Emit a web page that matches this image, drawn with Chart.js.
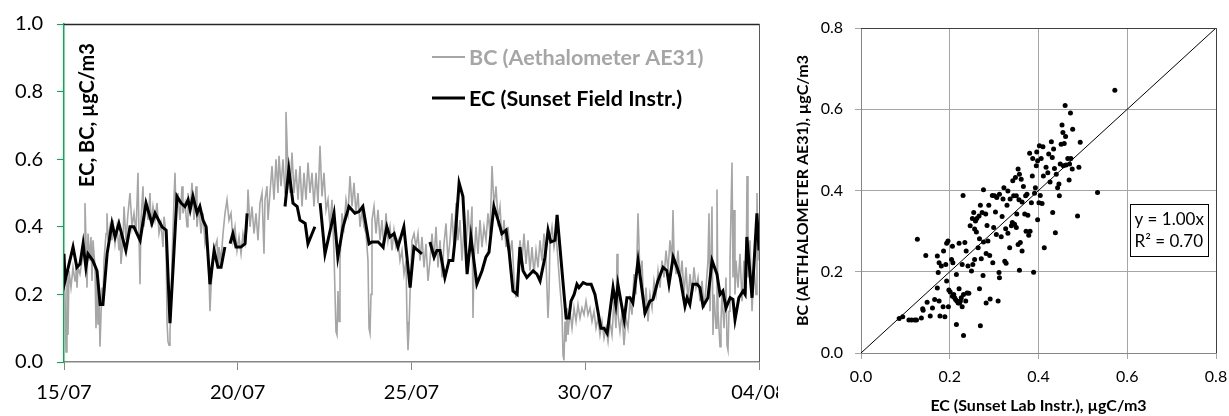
<!DOCTYPE html>
<html><head><meta charset="utf-8">
<script src="https://cdn.jsdelivr.net/npm/chart.js@4.4.1/dist/chart.umd.min.js"></script>
<style>
html,body{margin:0;padding:0;background:#fff;}
#wrap{position:relative;width:1229px;height:416px;overflow:hidden;}
#c1{position:absolute;left:0;top:0;}
#c2{position:absolute;left:778px;top:0;}
</style></head><body>
<div id="wrap">
<canvas id="c1" width="778" height="416"></canvas>
<canvas id="c2" width="451" height="416"></canvas>
</div>
<script>
// ---------- Time-series panel data (x = days since 15/07 00:00) ----------
const xTickDays = [0, 5, 10, 15, 20];
const xTickLabels = ["15/07", "20/07", "25/07", "30/07", "04/08"];
const yTicksLeft = [0, 0.2, 0.4, 0.6, 0.8, 1.0];

const bcLabel = "BC (Aethalometer AE31)";
const ecLabel = "EC (Sunset Field Instr.)";
const leftYTitle = "EC, BC, µgC/m3";

const bcDays = [
0.000,0.029,0.058,0.086,0.115,0.144,0.201,0.259,0.317,0.345,
0.374,0.403,0.460,0.518,0.576,0.604,0.633,0.662,0.691,0.748,
0.777,0.806,0.835,0.892,0.921,0.950,0.978,1.007,1.036,1.065,
1.094,1.122,1.151,1.209,1.237,1.266,1.324,1.381,1.410,1.468,
1.525,1.583,1.612,1.640,1.698,1.727,1.784,1.842,1.899,1.957,
2.014,2.072,2.129,2.158,2.187,2.216,2.273,2.302,2.360,2.417,
2.475,2.504,2.561,2.619,2.676,2.734,2.791,2.849,2.878,2.935,
2.964,2.993,3.022,3.050,3.079,3.108,3.165,3.194,3.223,3.281,
3.338,3.396,3.424,3.482,3.540,3.568,3.626,3.683,3.741,3.799,
3.827,3.885,3.942,4.000,4.058,4.115,4.173,4.201,4.230,4.288,
4.345,4.403,4.432,4.460,4.518,4.576,4.633,4.691,4.748,4.806,
4.863,4.921,4.978,5.036,5.094,5.151,5.209,5.266,5.295,5.353,
5.410,5.468,5.525,5.583,5.640,5.698,5.755,5.784,5.842,5.871,
5.928,5.986,6.043,6.101,6.158,6.187,6.245,6.302,6.360,6.388,
6.446,6.504,6.561,6.619,6.676,6.734,6.791,6.849,6.906,6.964,
7.022,7.079,7.137,7.194,7.252,7.309,7.367,7.424,7.482,7.540,
7.597,7.655,7.712,7.770,7.827,7.856,7.885,7.914,7.942,8.000,
8.058,8.115,8.173,8.230,8.288,8.345,8.403,8.460,8.518,8.576,
8.633,8.691,8.748,8.777,8.806,8.835,8.863,8.921,8.978,9.036,
9.094,9.151,9.209,9.266,9.324,9.381,9.439,9.496,9.554,9.612,
9.669,9.727,9.784,9.842,9.871,9.899,9.928,9.957,10.014,10.072,
10.129,10.187,10.245,10.302,10.360,10.417,10.475,10.532,10.590,10.647,
10.705,10.763,10.820,10.878,10.935,10.993,11.050,11.108,11.165,11.223,
11.281,11.338,11.396,11.453,11.511,11.568,11.626,11.683,11.741,11.770,
11.799,11.856,11.914,11.971,12.029,12.086,12.144,12.201,12.259,12.317,
12.374,12.432,12.489,12.547,12.604,12.662,12.719,12.777,12.835,12.892,
12.950,13.007,13.065,13.122,13.180,13.237,13.295,13.353,13.410,13.468,
13.525,13.583,13.640,13.698,13.755,13.813,13.871,13.928,13.957,13.986,
14.043,14.101,14.158,14.216,14.273,14.331,14.360,14.388,14.417,14.446,
14.475,14.504,14.561,14.619,14.676,14.734,14.791,14.849,14.906,14.964,
15.022,15.079,15.137,15.194,15.252,15.309,15.367,15.424,15.482,15.540,
15.597,15.655,15.712,15.770,15.827,15.885,15.914,15.942,16.000,16.058,
16.115,16.173,16.230,16.288,16.345,16.403,16.460,16.518,16.576,16.633,
16.691,16.748,16.806,16.863,16.921,16.978,17.036,17.094,17.151,17.209,
17.266,17.324,17.381,17.439,17.496,17.525,17.554,17.612,17.669,17.727,
17.784,17.842,17.899,17.957,18.014,18.072,18.129,18.187,18.245,18.302,
18.360,18.417,18.475,18.532,18.561,18.590,18.647,18.676,18.705,18.763,
18.791,18.820,18.878,18.906,18.935,18.993,19.050,19.079,19.108,19.137,
19.165,19.223,19.252,19.281,19.309,19.338,19.396,19.453,19.511,19.568,
19.626,19.655,19.683,19.741,19.799,19.856,19.914,19.942,19.971,20.000];

const bcVals = [
0.25,0.20,0.03,0.25,0.08,0.27,0.22,0.28,0.24,0.30,
0.22,0.28,0.26,0.30,0.33,0.47,0.36,0.22,0.38,0.30,
0.37,0.24,0.36,0.28,0.10,0.25,0.11,0.20,0.045,0.14,
0.22,0.18,0.30,0.38,0.44,0.36,0.40,0.36,0.42,0.35,
0.40,0.33,0.38,0.29,0.36,0.46,0.36,0.44,0.50,0.40,
0.44,0.38,0.56,0.38,0.23,0.42,0.52,0.40,0.48,0.42,
0.50,0.40,0.46,0.42,0.47,0.38,0.41,0.34,0.43,0.38,
0.12,0.06,0.05,0.09,0.16,0.30,0.48,0.56,0.44,0.50,
0.42,0.52,0.44,0.47,0.40,0.50,0.44,0.53,0.42,0.52,
0.40,0.46,0.38,0.44,0.35,0.38,0.25,0.15,0.22,0.30,
0.34,0.36,0.28,0.34,0.30,0.38,0.44,0.48,0.42,0.44,
0.36,0.40,0.33,0.37,0.32,0.38,0.35,0.40,0.51,0.40,
0.46,0.38,0.44,0.36,0.47,0.50,0.32,0.48,0.52,0.42,
0.50,0.58,0.48,0.60,0.50,0.61,0.52,0.60,0.50,0.74,
0.56,0.50,0.62,0.50,0.57,0.48,0.58,0.46,0.56,0.48,
0.59,0.50,0.56,0.46,0.56,0.47,0.64,0.49,0.56,0.45,
0.48,0.40,0.48,0.32,0.09,0.08,0.21,0.12,0.30,0.44,
0.40,0.48,0.44,0.55,0.46,0.53,0.44,0.50,0.40,0.45,
0.40,0.38,0.30,0.10,0.085,0.20,0.42,0.46,0.38,0.45,
0.36,0.42,0.33,0.44,0.36,0.40,0.33,0.39,0.34,0.36,
0.30,0.33,0.26,0.30,0.12,0.035,0.10,0.20,0.36,0.38,
0.34,0.38,0.30,0.37,0.28,0.35,0.24,0.30,0.38,0.30,
0.40,0.28,0.36,0.25,0.35,0.41,0.30,0.36,0.44,0.34,
0.47,0.36,0.42,0.30,0.40,0.33,0.45,0.36,0.46,0.13,
0.30,0.40,0.32,0.42,0.34,0.40,0.36,0.44,0.38,0.58,
0.46,0.52,0.42,0.46,0.36,0.42,0.34,0.40,0.32,0.36,
0.25,0.19,0.28,0.36,0.30,0.38,0.29,0.36,0.27,0.34,
0.26,0.33,0.28,0.36,0.30,0.38,0.30,0.13,0.20,0.36,
0.40,0.34,0.38,0.30,0.22,0.15,0.02,0.005,0.12,0.06,
0.16,0.08,0.15,0.10,0.16,0.12,0.17,0.13,0.16,0.14,
0.18,0.14,0.16,0.12,0.15,0.10,0.13,0.08,0.12,0.07,
0.10,0.06,0.12,0.08,0.18,0.10,0.32,0.14,0.09,0.15,
0.05,0.13,0.10,0.18,0.14,0.26,0.20,0.44,0.25,0.30,
0.14,0.22,0.12,0.20,0.16,0.24,0.20,0.27,0.22,0.30,
0.25,0.33,0.27,0.36,0.30,0.45,0.32,0.26,0.33,0.24,
0.30,0.20,0.28,0.18,0.26,0.20,0.28,0.22,0.25,0.18,
0.24,0.16,0.22,0.30,0.44,0.15,0.46,0.08,0.20,0.10,
0.51,0.15,0.045,0.12,0.20,0.10,0.25,0.05,0.035,0.15,
0.30,0.59,0.25,0.45,0.20,0.30,0.22,0.32,0.18,0.30,
0.20,0.55,0.25,0.36,0.15,0.28,0.20,0.50,0.30,0.40];

const ecDays = [
0.00,0.03,0.26,0.37,0.46,0.55,0.63,0.69,0.83,0.95,
1.04,1.12,1.24,1.38,1.47,1.58,1.78,1.90,2.01,2.10,
2.19,2.36,2.53,2.62,2.82,2.94,3.05,3.14,3.25,3.37,
3.48,3.57,3.63,3.71,3.83,3.91,4.00,4.09,4.20,4.32,
4.43,4.52,4.63,4.70,4.78,4.86,4.95,5.09,5.21,5.27,
6.00,6.36,6.47,6.59,6.71,6.79,6.94,7.02,7.22,7.29,
7.37,7.51,7.77,7.88,8.03,8.20,8.37,8.49,8.60,8.78,
8.86,9.04,9.18,9.29,9.38,9.50,9.61,9.78,9.96,10.07,
10.30,10.40,10.53,10.65,10.73,10.82,10.96,11.08,11.19,11.25,
11.37,11.48,11.60,11.71,11.88,12.03,12.14,12.23,12.37,12.49,
12.60,12.72,12.81,12.92,13.04,13.12,13.21,13.32,13.50,13.61,
13.70,13.84,13.93,14.01,14.13,14.19,14.45,14.53,14.59,14.68,
14.76,14.82,14.94,15.05,15.17,15.28,15.45,15.54,15.63,15.80,
15.88,15.94,16.12,16.20,16.29,16.37,16.52,16.72,16.86,16.95,
17.09,17.24,17.35,17.41,17.53,17.64,17.73,17.87,17.93,18.01,
18.10,18.22,18.30,18.39,18.53,18.65,18.79,18.88,18.96,19.05,
19.17,19.25,19.31,19.42,19.54,19.60,19.65,19.80,19.94,20.00];

const ecVals = [
0.32,0.24,0.34,0.28,0.29,0.35,0.28,0.32,0.30,0.27,
0.17,0.17,0.32,0.41,0.37,0.41,0.33,0.40,0.40,0.38,
0.36,0.47,0.41,0.44,0.40,0.39,0.115,0.28,0.49,0.47,
0.46,0.48,0.45,0.49,0.44,0.46,0.42,0.40,0.23,0.33,
0.28,0.28,0.34,null,0.35,0.38,0.34,0.34,0.35,0.44,
null,0.46,0.57,0.47,0.46,0.42,0.41,0.35,0.40,null,
0.47,0.32,0.44,0.31,0.40,0.46,0.44,0.445,0.46,0.35,
0.355,0.355,0.34,0.40,0.37,0.38,0.34,0.40,0.22,0.34,
0.32,null,0.355,0.31,0.33,0.33,0.25,0.30,0.30,0.36,
0.53,0.49,0.26,0.37,0.23,0.27,0.31,0.325,0.46,0.42,
0.38,0.39,0.325,0.21,0.20,0.34,0.27,0.25,0.27,0.26,
0.24,0.31,0.39,0.355,0.36,0.435,0.13,0.13,0.18,0.20,
0.23,0.22,0.235,0.23,0.23,0.20,0.10,0.10,0.085,0.22,
0.17,0.23,0.125,0.19,0.19,0.175,0.30,0.145,0.18,0.185,
0.24,0.28,0.27,0.23,0.31,0.28,0.25,0.165,0.19,0.17,
0.23,0.23,0.22,0.165,0.19,0.30,0.26,0.20,0.21,0.16,
0.19,0.185,0.125,0.19,0.21,0.20,0.37,0.19,0.44,0.33];

// ---------- Scatter panel data ----------
const scatterTicks = [0, 0.2, 0.4, 0.6, 0.8];
const scatterXTitle = "EC (Sunset Lab Instr.), µgC/m3";
const scatterYTitle = "BC (AETHALOMETER AE31), µgC/m3";
const fitText = ["y = 1.00x", "R² = 0.70"];
const fitLineX = [0, 0.8];
const fitSlope = 1.00;

const scatterEC = [
0.086,0.094,0.108,0.114,0.121,0.125,0.127,0.136,0.139,0.140,
0.146,0.149,0.156,0.161,0.166,0.172,0.172,0.174,0.176,0.176,
0.178,0.181,0.185,0.186,0.189,0.191,0.193,0.193,0.196,0.197,
0.198,0.201,0.204,0.206,0.206,0.207,0.209,0.211,0.213,0.215,
0.215,0.216,0.219,0.221,0.221,0.222,0.224,0.226,0.228,0.228,
0.230,0.231,0.231,0.234,0.236,0.237,0.239,0.241,0.243,0.246,
0.249,0.251,0.252,0.254,0.256,0.256,0.258,0.260,0.261,0.264,
0.266,0.267,0.267,0.269,0.269,0.271,0.273,0.275,0.276,0.276,
0.281,0.282,0.282,0.284,0.286,0.288,0.290,0.291,0.296,0.297,
0.299,0.301,0.303,0.305,0.306,0.309,0.311,0.312,0.312,0.316,
0.318,0.320,0.322,0.324,0.326,0.327,0.329,0.331,0.331,0.335,
0.336,0.339,0.341,0.342,0.344,0.346,0.348,0.350,0.350,0.351,
0.354,0.354,0.356,0.357,0.357,0.359,0.361,0.363,0.363,0.366,
0.369,0.371,0.372,0.374,0.376,0.378,0.380,0.381,0.384,0.386,
0.387,0.389,0.391,0.393,0.395,0.396,0.398,0.398,0.401,0.402,
0.404,0.406,0.408,0.410,0.411,0.413,0.417,0.421,0.423,0.426,
0.429,0.431,0.432,0.434,0.436,0.438,0.440,0.443,0.446,0.447,
0.449,0.451,0.453,0.455,0.456,0.458,0.460,0.461,0.462,0.466,
0.469,0.470,0.472,0.473,0.476,0.477,0.488,0.491,0.494,0.533,
0.572];

const scatterBC = [
0.085,0.089,0.081,0.081,0.081,0.081,0.280,0.086,0.109,0.105,
0.240,0.125,0.091,0.111,0.132,0.239,0.160,0.198,0.222,0.128,
0.091,0.214,0.114,0.251,0.089,0.218,0.177,0.270,0.276,0.114,
0.155,0.150,0.230,0.140,0.263,0.222,0.144,0.136,0.132,0.070,
0.193,0.128,0.123,0.270,0.158,0.123,0.128,0.136,0.114,0.218,
0.388,0.043,0.144,0.272,0.128,0.251,0.148,0.214,0.147,0.313,
0.202,0.331,0.218,0.346,0.230,0.305,0.325,0.298,0.331,0.259,
0.337,0.158,0.281,0.067,0.364,0.232,0.346,0.191,0.402,0.273,
0.342,0.123,0.245,0.314,0.276,0.364,0.240,0.133,0.388,0.222,
0.309,0.387,0.347,0.292,0.383,0.128,0.198,0.391,0.185,0.286,
0.336,0.379,0.407,0.226,0.306,0.221,0.364,0.399,0.295,0.259,
0.379,0.313,0.321,0.424,0.387,0.317,0.432,0.387,0.309,0.342,
0.453,0.267,0.377,0.204,0.440,0.272,0.428,0.251,0.372,0.410,
0.342,0.387,0.300,0.391,0.339,0.290,0.492,0.300,0.370,0.436,
0.479,0.199,0.393,0.407,0.461,0.495,0.328,0.473,0.370,0.510,
0.388,0.479,0.368,0.508,0.436,0.259,0.457,0.444,0.490,0.421,
0.520,0.481,0.346,0.502,0.454,0.296,0.440,0.407,0.416,0.387,
0.465,0.514,0.561,0.543,0.461,0.516,0.609,0.533,0.463,0.479,
0.426,0.465,0.591,0.479,0.453,0.551,0.337,0.457,0.519,0.395,
0.647];

// ---------- Styling ----------
const FONT = 'Lato, "Open Sans", "DejaVu Sans", sans-serif';
const GREY = '#A6A6A6';
const noPad = s => { s.paddingLeft = 0; s.paddingRight = 0; s.paddingTop = 0; s.paddingBottom = 0; };

// ---------- Left chart plugins ----------
const frameLeft = {
  id: 'frameLeft',
  afterDraw(chart) {
    const {ctx, chartArea: a} = chart;
    ctx.save();
    ctx.lineWidth = 1.3;
    ctx.strokeStyle = '#262626';
    ctx.beginPath();
    ctx.moveTo(a.left, a.top + 0.5);
    ctx.lineTo(a.right + 0.5, a.top + 0.5);
    ctx.stroke();
    ctx.strokeStyle = '#595959';
    ctx.lineWidth = 1;
    ctx.beginPath();
    ctx.moveTo(a.right + 0.5, a.top);
    ctx.lineTo(a.right + 0.5, a.bottom);
    ctx.stroke();
    ctx.restore();
  }
};
const legendLeft = {
  id: 'legendLeft',
  afterDraw(chart) {
    const {ctx, chartArea: a} = chart;
    const ds = chart.data.datasets;
    const x0 = a.left + 368, x1 = a.left + 401, tx = a.left + 405;
    const rows = [
      {y: a.top + 33, color: GREY, width: 2, text: ds[0].label},
      {y: a.top + 74, color: '#000', width: 3, text: ds[1].label}
    ];
    ctx.save();
    ctx.font = 'bold 21.5px ' + FONT;
    ctx.textBaseline = 'middle';
    ctx.textAlign = 'left';
    rows.forEach(r => {
      ctx.strokeStyle = r.color; ctx.lineWidth = r.width;
      ctx.beginPath(); ctx.moveTo(x0, r.y); ctx.lineTo(x1, r.y); ctx.stroke();
      ctx.fillStyle = r.color;
      ctx.fillText(r.text, tx, r.y + 1);
    });
    ctx.restore();
  }
};
const yTitleLeft = {
  id: 'yTitleLeft',
  afterDraw(chart) {
    const {ctx, chartArea: a} = chart;
    ctx.save();
    ctx.translate(a.left + 24, a.top + 91);
    ctx.rotate(-Math.PI / 2);
    ctx.font = 'bold 20px ' + FONT;
    ctx.fillStyle = '#000';
    ctx.textAlign = 'center';
    ctx.textBaseline = 'middle';
    ctx.fillText(leftYTitle, 0, 0);
    ctx.restore();
  }
};

new Chart(document.getElementById('c1'), {
  type: 'line',
  data: {
    datasets: [
      {label: bcLabel, data: bcDays.map((d, i) => ({x: d, y: bcVals[i]})),
       borderColor: GREY, borderWidth: 1.6, pointRadius: 0, tension: 0, order: 2},
      {label: ecLabel, data: ecDays.map((d, i) => ({x: d, y: ecVals[i]})),
       borderColor: '#000', borderWidth: 3, pointRadius: 0, tension: 0, spanGaps: false, order: 1}
    ]
  },
  options: {
    responsive: false, animation: false, events: [],
    layout: {padding: {top: 24, right: 19, left: 0, bottom: 0}, autoPadding: false},
    plugins: {legend: {display: false}, tooltip: {enabled: false}},
    scales: {
      x: {
        type: 'linear', min: xTickDays[0], max: xTickDays[xTickDays.length - 1],
        afterBuildTicks: s => { s.ticks = xTickDays.map(v => ({value: v})); },
        afterFit: s => { s.height = 54; noPad(s); },
        ticks: {callback: (v, i) => xTickLabels[i], font: {family: FONT, size: 20}, color: '#000',
                padding: 11, maxRotation: 0, autoSkip: false},
        grid: {drawOnChartArea: false, tickLength: 8, color: '#868686'},
        border: {color: '#868686', width: 1.5}
      },
      y: {
        type: 'linear', min: 0, max: 1,
        afterBuildTicks: s => { s.ticks = yTicksLeft.map(v => ({value: v})); },
        afterFit: s => { s.width = 64; noPad(s); },
        ticks: {callback: v => v.toFixed(1), font: {family: FONT, size: 20}, color: '#000', padding: 14},
        grid: {drawOnChartArea: false, tickLength: 7, color: '#00B050'},
        border: {color: '#00B050', width: 1.5}
      }
    }
  },
  plugins: [frameLeft, legendLeft, yTitleLeft]
});

// ---------- Right chart plugins ----------
const frameRight = {
  id: 'frameRight',
  afterDraw(chart) {
    const {ctx, chartArea: a} = chart;
    ctx.save();
    ctx.strokeStyle = '#404040';
    ctx.lineWidth = 1;
    ctx.beginPath();
    ctx.moveTo(a.left, a.top + 0.5);
    ctx.lineTo(a.right + 0.5, a.top + 0.5);
    ctx.lineTo(a.right + 0.5, a.bottom);
    ctx.stroke();
    ctx.restore();
  }
};
const fitBox = {
  id: 'fitBox',
  afterDraw(chart) {
    const {ctx} = chart;
    const xs = chart.scales.x, ys = chart.scales.y;
    const l = Math.round(xs.getPixelForValue(0.606)) + 0.5;
    const r = Math.round(xs.getPixelForValue(0.783)) + 0.5;
    const t = Math.round(ys.getPixelForValue(0.367)) + 0.5;
    const b = Math.round(ys.getPixelForValue(0.239)) + 0.5;
    ctx.save();
    ctx.fillStyle = '#fff';
    ctx.fillRect(l, t, r - l, b - t);
    ctx.strokeStyle = '#000';
    ctx.lineWidth = 1;
    ctx.strokeRect(l, t, r - l, b - t);
    ctx.fillStyle = '#000';
    ctx.font = '17px ' + FONT;
    ctx.textAlign = 'left';
    ctx.textBaseline = 'middle';
    ctx.fillText(fitText[0], l + 4, t + 15);
    ctx.fillText(fitText[1], l + 4, t + 37);
    ctx.restore();
  }
};

new Chart(document.getElementById('c2'), {
  type: 'scatter',
  data: {
    datasets: [
      {data: scatterEC.map((x, i) => ({x: x, y: scatterBC[i]})),
       backgroundColor: '#000', borderColor: '#000', pointRadius: 2.5, pointBorderWidth: 0, order: 2},
      {type: 'line', data: fitLineX.map(x => ({x: x, y: fitSlope * x})),
       borderColor: '#000', borderWidth: 1, pointRadius: 0, order: 1}
    ]
  },
  options: {
    responsive: false, animation: false, events: [],
    layout: {padding: {top: 28, right: 13, left: 0, bottom: 0}, autoPadding: false},
    plugins: {legend: {display: false}, tooltip: {enabled: false}},
    scales: {
      x: {
        type: 'linear', min: 0, max: 0.8,
        afterBuildTicks: s => { s.ticks = scatterTicks.map(v => ({value: v})); },
        afterFit: s => { s.height = 63; noPad(s); },
        ticks: {callback: v => v.toFixed(1), font: {family: FONT, size: 16}, color: '#000', padding: 8, maxRotation: 0},
        grid: {color: '#A6A6A6', tickLength: 6},
        border: {color: '#868686'},
        title: {display: true, text: scatterXTitle, font: {family: FONT, size: 16, weight: 'bold'}, color: '#000',
                padding: {top: 0, bottom: 1}}
      },
      y: {
        type: 'linear', min: 0, max: 0.8,
        afterBuildTicks: s => { s.ticks = scatterTicks.map(v => ({value: v})); },
        afterFit: s => { s.width = 83; noPad(s); },
        ticks: {callback: v => v.toFixed(1), font: {family: FONT, size: 16}, color: '#000', padding: 12},
        grid: {color: '#A6A6A6', tickLength: 6},
        border: {color: '#868686'},
        title: {display: true, text: scatterYTitle, font: {family: FONT, size: 16, weight: 'bold'}, color: '#000',
                padding: {top: 15, bottom: 0}}
      }
    }
  },
  plugins: [frameRight, fitBox]
});
</script>
</body></html>
